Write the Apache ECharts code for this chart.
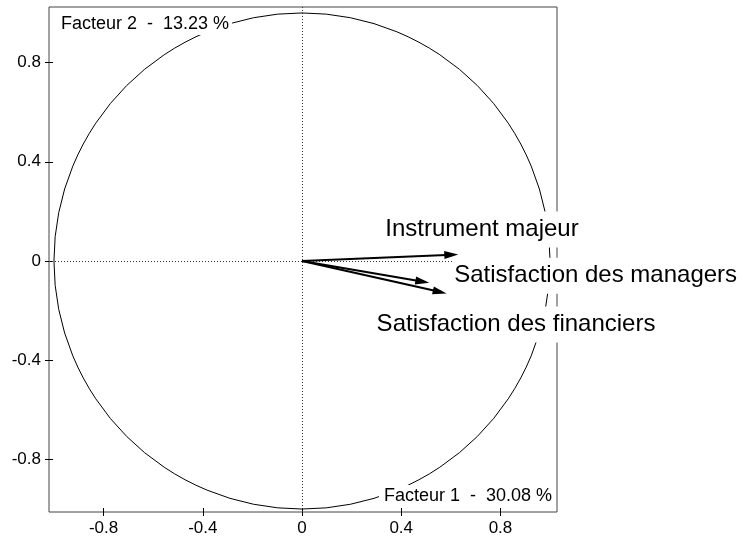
<!DOCTYPE html>
<html>
<head>
<meta charset="utf-8">
<script src="https://cdn.jsdelivr.net/npm/echarts@6/dist/echarts.min.js"></script>
<style>
  html, body { margin: 0; padding: 0; background: #fff; }
  #chart { width: 750px; height: 544px; }
</style>
</head>
<body>
<div id="chart"></div>
<script>
// Correlation circle: loadings of the variables on factors 1 and 2
const variables = ['Instrument majeur', 'Satisfaction des managers', 'Satisfaction des financiers'];
const factor1 = [0.630, 0.513, 0.583];
const factor2 = [0.026, -0.088, -0.131];
const tickValues = [-0.8, -0.4, 0, 0.4, 0.8];
const axisTitleX = 'Facteur 1  -  30.08 %';
const axisTitleY = 'Facteur 2  -  13.23 %';

// Axis extents
const X_MIN = -1.020, X_MAX = 1.028;
const Y_MIN = -1.012, Y_MAX = 1.024;

// Label placement (pixel offsets from each arrow tip: left edge, vertical centre)
const LABEL_OFFSETS = [[-75, -25], [23, -7], [-72, 31]];

const FONT = '"Liberation Sans", Arial, Helvetica, sans-serif';

const vectors = variables.map((name, i) => [factor1[i], factor2[i], i]);

const chart = echarts.init(document.getElementById('chart'));

function valueAxis(extra) {
  return Object.assign({
    type: 'value',
    axisLine: { show: false, onZero: false },
    splitLine: { show: false },
    axisTick: { show: true, length: 4, inside: false, customValues: tickValues, lineStyle: { color: '#000', width: 1 } },
    axisLabel: { show: true, customValues: tickValues, color: '#000', fontSize: 17, fontFamily: FONT, margin: 8 }
  }, extra);
}

const innerTick = { show: true, length: 4, inside: true, customValues: tickValues, lineStyle: { color: '#000', width: 1 } };

chart.setOption({
  backgroundColor: '#fff',
  animation: false,
  grid: {
    left: 49, right: 193, top: 7, bottom: 32,
    show: true, borderColor: '#444', borderWidth: 1, backgroundColor: 'transparent'
  },
  xAxis: [
    valueAxis({ min: X_MIN, max: X_MAX, position: 'bottom' }),
    valueAxis({ min: X_MIN, max: X_MAX, position: 'bottom', axisTick: innerTick, axisLabel: { show: false } })
  ],
  yAxis: [
    valueAxis({ min: Y_MIN, max: Y_MAX, position: 'left' }),
    valueAxis({ min: Y_MIN, max: Y_MAX, position: 'left', axisTick: innerTick, axisLabel: { show: false } })
  ],
  series: [
    {
      // dotted origin lines
      type: 'custom',
      silent: true,
      z: 1,
      data: [[0, 0]],
      renderItem: function (params, api) {
        const top = api.coord([0, Y_MAX]);
        const bottom = api.coord([0, Y_MIN]);
        const left = api.coord([X_MIN, 0]);
        const right = api.coord([X_MAX, 0]);
        const ls = { stroke: '#333', lineWidth: 1, lineDash: [1, 2] };
        return {
          type: 'group',
          children: [
            { type: 'line', shape: { x1: Math.round(top[0]) + 0.5, y1: top[1], x2: Math.round(bottom[0]) + 0.5, y2: bottom[1] }, style: ls },
            { type: 'line', shape: { x1: left[0], y1: Math.round(left[1]) + 0.5, x2: right[0], y2: Math.round(right[1]) + 0.5 }, style: ls }
          ]
        };
      }
    },
    {
      // unit circle
      type: 'custom',
      silent: true,
      z: 2,
      data: [[0, 0]],
      renderItem: function (params, api) {
        const c = api.coord([0, 0]);
        const r = api.size([1, 1])[0];
        return { type: 'circle', shape: { cx: c[0], cy: c[1], r: r }, style: { fill: 'none', stroke: '#000', lineWidth: 1 } };
      }
    },
    {
      // variable arrows
      type: 'custom',
      silent: true,
      z: 3,
      data: vectors,
      renderItem: function (params, api) {
        const o = api.coord([0, 0]);
        const t = api.coord([api.value(0), api.value(1)]);
        const dx = t[0] - o[0], dy = t[1] - o[1];
        const len = Math.sqrt(dx * dx + dy * dy);
        const ux = dx / len, uy = dy / len;
        const headL = 14, headW = 4;
        const bx = t[0] - ux * headL, by = t[1] - uy * headL;
        const px = -uy, py = ux;
        return {
          type: 'group',
          children: [
            { type: 'line', shape: { x1: o[0], y1: o[1], x2: bx + ux * 2, y2: by + uy * 2 }, style: { stroke: '#000', lineWidth: 2 } },
            { type: 'polygon', shape: { points: [[t[0], t[1]], [bx + px * headW, by + py * headW], [bx - px * headW, by - py * headW]] }, style: { fill: '#000' } }
          ]
        };
      }
    },
    {
      // variable names
      type: 'custom',
      silent: true,
      z: 10,
      data: vectors,
      renderItem: function (params, api) {
        const i = api.value(2);
        const t = api.coord([api.value(0), api.value(1)]);
        const off = LABEL_OFFSETS[i];
        return {
          type: 'text',
          x: t[0] + off[0],
          y: t[1] + off[1],
          style: {
            text: variables[i],
            fill: '#000',
            fontSize: 24,
            fontFamily: FONT,
            align: 'left',
            verticalAlign: 'middle',
            lineHeight: 28,
            backgroundColor: '#fff',
            padding: [4, 2, 4, 2]
          }
        };
      }
    }
  ],
  graphic: [
    {
      type: 'text',
      left: 58, top: 13, z: 20,
      style: { text: axisTitleY, fill: '#000', fontSize: 18, fontFamily: FONT, backgroundColor: '#fff', padding: [2, 3, 2, 3] }
    },
    {
      type: 'text',
      right: 195, top: 485, z: 20,
      style: { text: axisTitleX, fill: '#000', fontSize: 18, fontFamily: FONT, backgroundColor: '#fff', padding: [2, 3, 2, 5] }
    }
  ]
});
</script>
</body>
</html>
